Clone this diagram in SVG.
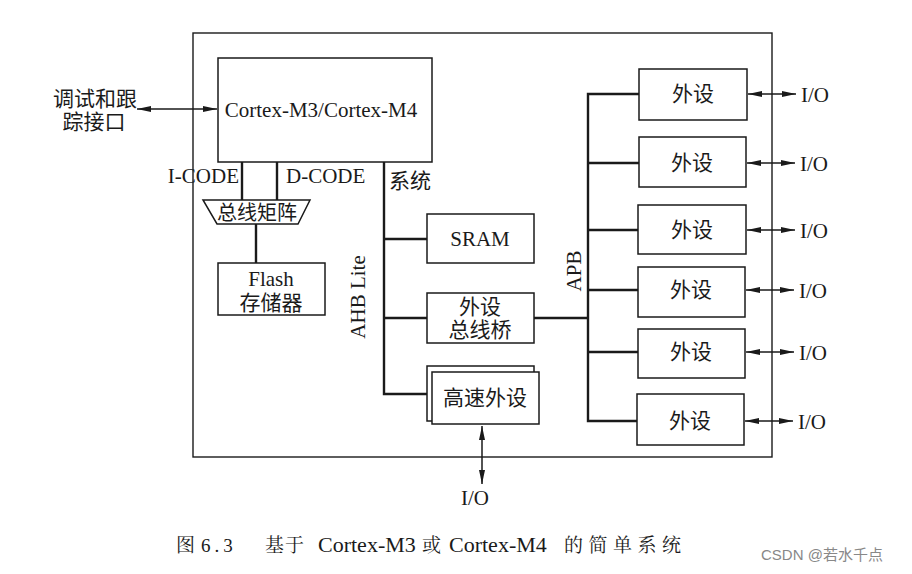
<svg xmlns="http://www.w3.org/2000/svg" width="912" height="574" viewBox="0 0 912 574">
<style>
.t{font-family:"Liberation Serif","Noto Sans CJK SC",serif;font-size:21px;fill:#1a1a1a}
.c{font-family:"Liberation Serif","Noto Serif CJK SC","Noto Sans CJK SC",serif;font-size:19px;fill:#1a1a1a}
.m{text-anchor:middle}
.box{fill:#fff;stroke:#1a1a1a;stroke-width:1.5}
.bus{fill:none;stroke:#1a1a1a;stroke-width:2.4}
.arr{fill:none;stroke:#1a1a1a;stroke-width:1.5;marker-start:url(#ah);marker-end:url(#ah)}
</style>
<defs>
<marker id="ah" viewBox="0 0 14 8" refX="14" refY="4" markerWidth="14" markerHeight="8" markerUnits="userSpaceOnUse" orient="auto-start-reverse">
<path d="M0,1 L14,4 L0,7 Z" fill="#1a1a1a"/>
</marker>
</defs>
<rect width="912" height="574" fill="#fff"/>
<g id="chip"><rect x="193" y="33" width="579" height="424" fill="none" stroke="#1a1a1a" stroke-width="1.4"/></g>
<g id="connectors">
<line class="arr" x1="137" y1="109" x2="217" y2="109"/>
<line class="bus" x1="242" y1="162" x2="242" y2="200"/>
<line class="bus" x1="277" y1="162" x2="277" y2="200"/>
<line class="bus" x1="256" y1="224" x2="256" y2="263"/>
<polyline class="bus" points="384,162 384,394 427,394"/>
<line class="bus" x1="384" y1="239" x2="427" y2="239"/>
<line class="bus" x1="384" y1="318" x2="427" y2="318"/>
<line class="bus" x1="534" y1="318" x2="588" y2="318"/>
<polyline class="bus" points="639,94 588,94 588,421 638,421"/>
<line class="bus" x1="588" y1="163" x2="639" y2="163"/>
<line class="bus" x1="588" y1="230" x2="639" y2="230"/>
<line class="bus" x1="588" y1="290" x2="639" y2="290"/>
<line class="bus" x1="588" y1="352" x2="639" y2="352"/>
<line class="arr" x1="748" y1="94" x2="796" y2="94"/>
<line class="arr" x1="747" y1="163" x2="795" y2="163"/>
<line class="arr" x1="747" y1="230" x2="795" y2="230"/>
<line class="arr" x1="746" y1="290" x2="794" y2="290"/>
<line class="arr" x1="746" y1="352" x2="794" y2="352"/>
<line class="arr" x1="745" y1="421" x2="793" y2="421"/>
<line class="arr" x1="482" y1="426" x2="482" y2="484"/>
</g>
<g id="debug"><text class="t m" x="95" y="106">调试和跟</text><text class="t m" x="94" y="129">踪接口</text></g>
<g id="cpu"><rect class="box" x="218" y="58" width="214" height="104"/><text class="t m" x="321" y="117">Cortex-M3/Cortex-M4</text></g>
<g id="labels">
<text class="t" x="239" y="183" text-anchor="end">I-CODE</text>
<text class="t" x="286" y="183">D-CODE</text>
<text class="t" x="389" y="188">系统</text>
<text class="t m" transform="translate(365,297) rotate(-90)">AHB Lite</text>
<text class="t m" transform="translate(581,271) rotate(-90)">APB</text>
</g>
<g id="busmatrix"><polygon class="box" points="203,200 310,200 298,224 217,224"/><text class="t m" x="257" y="220" style="font-size:20px">总线矩阵</text></g>
<g id="flash"><rect class="box" x="218" y="263" width="107" height="52"/><text class="t m" x="271" y="286">Flash</text><text class="t m" x="271" y="310">存储器</text></g>
<g id="sram"><rect class="box" x="427" y="214" width="107" height="49"/><text class="t m" x="480" y="246">SRAM</text></g>
<g id="bridge"><rect class="box" x="427" y="293" width="107" height="50"/><text class="t m" x="480" y="314">外设</text><text class="t m" x="480" y="337">总线桥</text></g>
<g id="hsperiph"><rect class="box" x="427" y="366" width="107" height="55"/><rect class="box" x="432" y="372" width="107" height="52"/><text class="t m" x="485" y="405">高速外设</text><text class="t m" x="475" y="505">I/O</text></g>
<g id="p1"><rect class="box" x="639" y="69" width="108" height="51"/><text class="t m" x="693" y="101">外设</text><text class="t" x="801" y="102">I/O</text></g>
<g id="p2"><rect class="box" x="639" y="137" width="107" height="50"/><text class="t m" x="692" y="170">外设</text><text class="t" x="800" y="171">I/O</text></g>
<g id="p3"><rect class="box" x="638" y="205" width="108" height="49"/><text class="t m" x="692" y="237">外设</text><text class="t" x="800" y="238">I/O</text></g>
<g id="p4"><rect class="box" x="638" y="267" width="107" height="50"/><text class="t m" x="691" y="297">外设</text><text class="t" x="799" y="298">I/O</text></g>
<g id="p5"><rect class="box" x="638" y="329" width="107" height="49"/><text class="t m" x="691" y="359">外设</text><text class="t" x="799" y="360">I/O</text></g>
<g id="p6"><rect class="box" x="637" y="394" width="107" height="51"/><text class="t m" x="690" y="428">外设</text><text class="t" x="798" y="429">I/O</text></g>
<g id="caption">
<text class="c" y="552"><tspan x="176">图</tspan><tspan x="201" letter-spacing="4">6.3</tspan><tspan x="265" letter-spacing="1">基于</tspan><tspan x="318" style="font-size:22px">Cortex-M3</tspan><tspan x="422">或</tspan><tspan x="449" style="font-size:22px">Cortex-M4</tspan><tspan x="564" letter-spacing="5.5">的简单系统</tspan></text>
<text x="761" y="560" style="font-family:'Liberation Sans','Noto Sans CJK SC',sans-serif;font-size:15px;fill:#888">CSDN @若水千点</text>
</g>
</svg>
